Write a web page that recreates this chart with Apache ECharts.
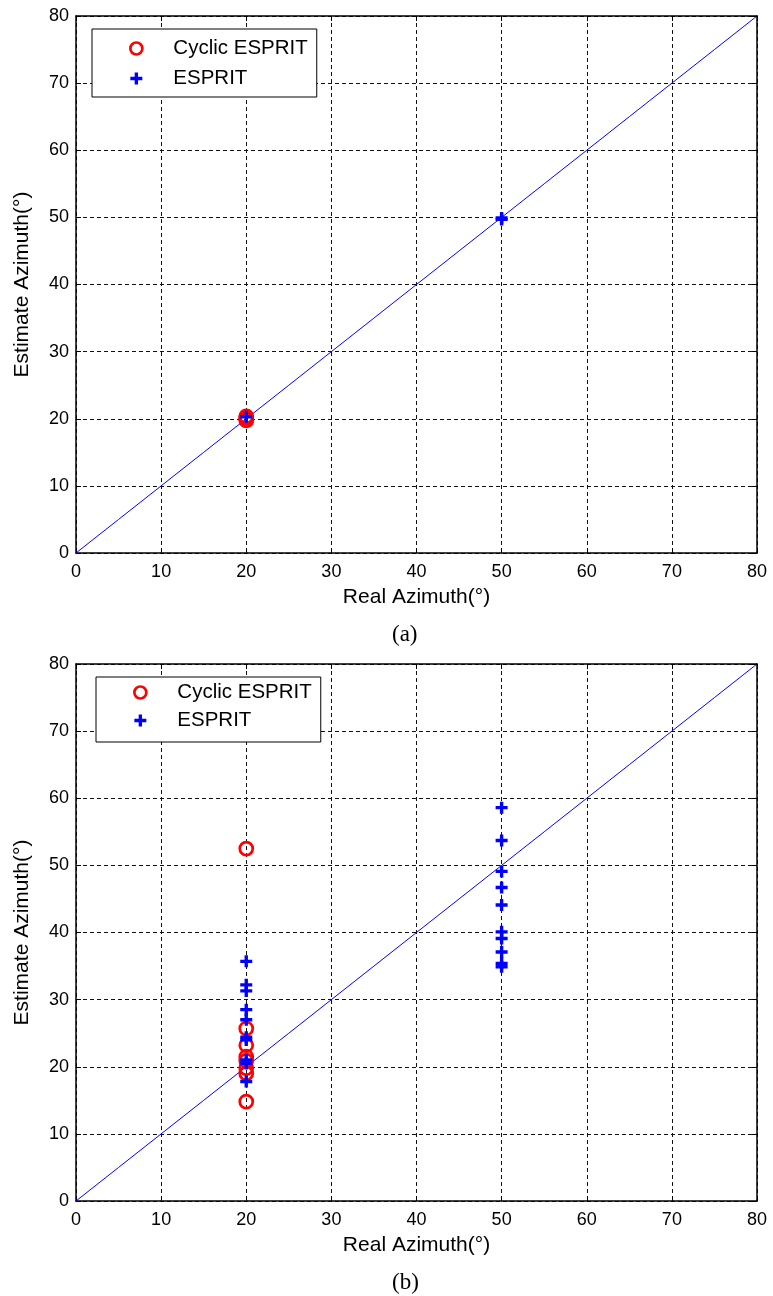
<!DOCTYPE html>
<html>
<head>
<meta charset="utf-8">
<script src="https://cdn.jsdelivr.net/npm/echarts@6/dist/echarts.min.js"></script>
<style>
  html, body { margin: 0; padding: 0; background: #fff; }
  #chart { width: 773px; height: 1296px; }
</style>
</head>
<body>
<div id="chart"></div>
<script>
// Axis ticks (degrees)
const axisMin = 0;
const axisMax = 80;
const axisStep = 10;

// Reference line: estimate equal to the real azimuth
const lineReal = [0, 5, 10, 15, 20, 25, 30, 35, 40, 45, 50, 55, 60, 65, 70, 75, 80];
const lineEst  = [0, 5, 10, 15, 20, 25, 30, 35, 40, 45, 50, 55, 60, 65, 70, 75, 80];

// (a) estimates
const aCyclicReal = [20, 20, 20, 20];
const aCyclicEst  = [19.75, 19.95, 20.15, 20.35];
const aEspritReal = [20, 50, 50];
const aEspritEst  = [20.3, 49.7, 49.9];

// (b) estimates
const bCyclicReal = [20, 20, 20, 20, 20, 20, 20, 20];
const bCyclicEst  = [52.5, 25.7, 23.2, 21.5, 20.9, 19.8, 19.0, 14.8];
const bEspritReal = [20, 20, 20, 20, 20, 20, 20, 20, 20, 20,
                     50, 50, 50, 50, 50, 50, 50, 50, 50, 50];
const bEspritEst  = [35.7, 32.2, 31.3, 28.5, 27.0, 24.4, 24.0, 21.0, 20.5, 17.8,
                     58.6, 53.7, 49.1, 46.7, 44.1, 40.1, 39.1, 37.1, 35.4, 34.9];

const seriesNames = ['Cyclic ESPRIT', 'ESPRIT'];
const xName = 'Real Azimuth(°)';
const yName = 'Estimate Azimuth(°)';
const panelLabels = ['(a)', '(b)'];

const pair = (xs, ys) => xs.map((x, i) => [x, ys[i]]);

const SANS = "'Liberation Sans', Arial, Helvetica, sans-serif";
const SERIF = "'Liberation Serif', 'Times New Roman', serif";
const PLUS = 'path://M3.6,0H6.4V3.6H10V6.4H6.4V10H3.6V6.4H0V3.6H3.6Z';
const RED = '#ff0000';
const BLUE = '#0000ff';

const gridTops = [16, 664];
const gridH = 537;

function valueAxis(gi, pos, main, isX) {
  return {
    type: 'value', gridIndex: gi, position: pos,
    min: axisMin, max: axisMax, interval: axisStep,
    name: main ? (isX ? xName : yName) : '',
    nameLocation: 'middle',
    nameGap: isX ? 34 : 43,
    nameTextStyle: { fontFamily: SANS, fontSize: 21, color: '#000' },
    axisLine: { show: true, onZero: false, lineStyle: { color: '#000', width: 1.5 } },
    axisTick: { show: true, inside: true, length: 5, lineStyle: { color: '#000', width: 1 } },
    axisLabel: {
      show: main, margin: isX ? 10 : 7,
      fontFamily: SANS, fontSize: 18, color: '#000'
    },
    splitLine: main ? { show: true, lineStyle: { color: '#111', width: 1, type: [4, 3] } } : { show: false },
    z: main ? 1 : 3
  };
}

const grids = gridTops.map(t => ({ left: 76, top: t, width: 681, height: gridH, containLabel: false }));
const xAxes = [], yAxes = [];
[0, 1].forEach(gi => {
  xAxes.push(valueAxis(gi, 'bottom', true, true));
  xAxes.push(valueAxis(gi, 'top', false, true));
  yAxes.push(valueAxis(gi, 'left', true, false));
  yAxes.push(valueAxis(gi, 'right', false, false));
});

function panelSeries(gi, cycR, cycE, espR, espE) {
  const xi = gi * 2, yi = gi * 2;
  return [
    {
      type: 'line', xAxisIndex: xi, yAxisIndex: yi,
      data: pair(lineReal, lineEst), showSymbol: false, symbol: 'none',
      lineStyle: { color: BLUE, width: 1 }, silent: true, z: 2
    },
    {
      name: seriesNames[0], type: 'scatter', xAxisIndex: xi, yAxisIndex: yi,
      data: pair(cycR, cycE), symbol: 'circle', symbolSize: 13,
      itemStyle: { color: 'rgba(0,0,0,0)', borderColor: RED, borderWidth: 2.7, opacity: 1 },
      z: 3
    },
    {
      name: seriesNames[1], type: 'scatter', xAxisIndex: xi, yAxisIndex: yi,
      data: pair(espR, espE), symbol: PLUS, symbolSize: 12,
      itemStyle: { color: BLUE, opacity: 1 },
      z: 4
    }
  ];
}

function legendAt(left, top, padding, gap) {
  return {
    orient: 'vertical', left: left, top: top,
    selectedMode: false,
    backgroundColor: '#fff', borderColor: '#000', borderWidth: 1,
    padding: padding,
    itemWidth: 64, itemHeight: 12, itemGap: gap,
    textStyle: { fontFamily: SANS, fontSize: 20.5, lineHeight: 20, color: '#000' },
    data: [
      { name: seriesNames[0], icon: 'circle',
        itemStyle: { color: 'rgba(0,0,0,0)', borderColor: RED, borderWidth: 2.7 } },
      { name: seriesNames[1], icon: PLUS, itemStyle: { color: BLUE } }
    ],
    z: 10
  };
}

const option = {
  animation: false,
  backgroundColor: '#fff',
  title: panelLabels.map((t, i) => ({
    text: t, left: 387, top: i === 0 ? 618 : 1266,
    textStyle: { fontFamily: SERIF, fontSize: 23, fontWeight: 'normal', color: '#000' }
  })),
  legend: [
    legendAt(92, 29, [9, 9, 8, 37], 9),
    legendAt(96, 677, [5, 9, 11, 37], 7)
  ],
  grid: grids,
  xAxis: xAxes,
  yAxis: yAxes,
  series: [
    ...panelSeries(0, aCyclicReal, aCyclicEst, aEspritReal, aEspritEst),
    ...panelSeries(1, bCyclicReal, bCyclicEst, bEspritReal, bEspritEst)
  ]
};

const chart = echarts.init(document.getElementById('chart'), null, { renderer: 'canvas' });
chart.setOption(option);
</script>
</body>
</html>
